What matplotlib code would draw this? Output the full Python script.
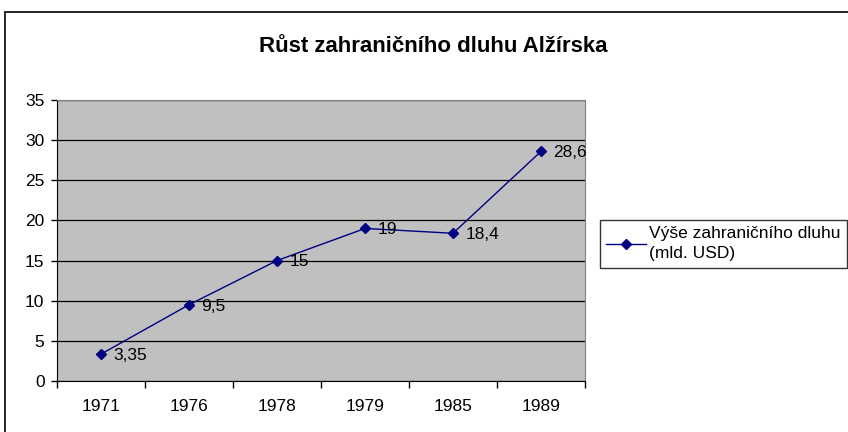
import matplotlib.pyplot as plt
from matplotlib.patches import Rectangle
from matplotlib.ticker import FixedLocator

plt.rcParams['font.family'] = ['Liberation Sans', 'DejaVu Sans']

years = ["1971", "1976", "1978", "1979", "1985", "1989"]
debt = [3.35, 9.5, 15, 19, 18.4, 28.6]
labels = ["3,35", "9,5", "15", "19", "18,4", "28,6"]

fig = plt.figure(figsize=(8.48, 4.32), dpi=100)
ax = fig.add_axes([57 / 848, 51 / 432, 528 / 848, 281 / 432])

# outer chart frame (cut off at right and bottom like the source)
fig.patches.append(Rectangle((5 / 848, -0.1), 1.2, 420 / 432 + 0.1,
                             transform=fig.transFigure, fill=False,
                             edgecolor='black', linewidth=1.2))

ax.set_facecolor('#C0C0C0')
x = list(range(len(years)))
ax.plot(x, debt, color='#000080', linewidth=1, marker='D', markersize=5.5,
        label="Výše zahraničního dluhu\n(mld. USD)")

for xi, yi, lab in zip(x, debt, labels):
    ax.annotate(lab, (xi, yi), xytext=(9, -1), textcoords='offset points',
                ha='left', va='center', fontsize=12.5)

ax.set_xlim(-0.5, 5.5)
ax.set_ylim(0, 35)
ax.set_yticks(range(0, 36, 5))
ax.set_xticks(x)
ax.set_xticklabels(years)
ax.xaxis.set_minor_locator(FixedLocator([i - 0.5 for i in range(len(years) + 1)]))
ax.tick_params(axis='x', which='major', length=0, pad=13, labelsize=12.5)
ax.tick_params(axis='x', which='minor', length=5, width=1, color='black')
ax.tick_params(axis='y', length=4, width=1, pad=5, labelsize=12.5)

ax.grid(axis='y', color='black', linewidth=0.9)
ax.set_axisbelow(True)
for s in ['top', 'right']:
    ax.spines[s].set_color('#808080')
for s in ['left', 'bottom']:
    ax.spines[s].set_color('black')

fig.text(433 / 848, 1 - 46 / 432, "Růst zahraničního dluhu Alžírska",
         ha='center', va='center', fontsize=16, fontweight='bold')

leg = fig.legend(loc='upper left', bbox_to_anchor=(600 / 848, 1 - 220 / 432),
                 fontsize=12.5, frameon=True, fancybox=False, handlelength=2.3,
                 borderaxespad=0, handletextpad=0.2, borderpad=0.35,
                 labelspacing=0.1)
leg.get_frame().set_edgecolor('black')
leg.get_frame().set_linewidth(1)
for t in leg.get_texts():
    t.set_linespacing(1.45)

fig.savefig('out.png', dpi=100)
